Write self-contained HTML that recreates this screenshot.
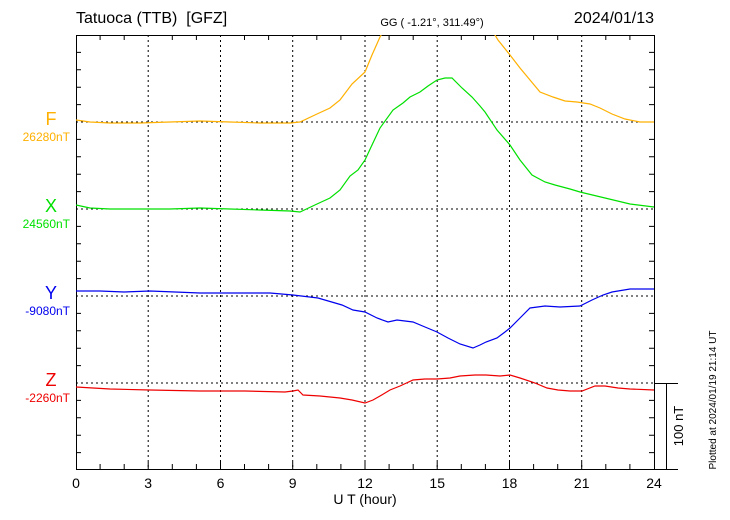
<!DOCTYPE html>
<html><head><meta charset="utf-8"><style>body{margin:0;background:#fff}svg{display:block}text{font-family:"Liberation Sans",sans-serif}</style></head><body>
<svg width="730" height="520" xmlns="http://www.w3.org/2000/svg">
<g stroke="#000" stroke-width="1" stroke-dasharray="2,3" fill="none">
<line x1="148.2" y1="35" x2="148.2" y2="469"/><line x1="220.5" y1="35" x2="220.5" y2="469"/><line x1="292.7" y1="35" x2="292.7" y2="469"/><line x1="365" y1="35" x2="365" y2="469"/><line x1="437.2" y1="35" x2="437.2" y2="469"/><line x1="509.5" y1="35" x2="509.5" y2="469"/><line x1="581.7" y1="35" x2="581.7" y2="469"/>
<line x1="76" y1="122" x2="654" y2="122"/><line x1="76" y1="209" x2="654" y2="209"/><line x1="76" y1="296" x2="654" y2="296"/><line x1="76" y1="383" x2="654" y2="383"/>
</g>
<rect x="76.5" y="35.5" width="578" height="434" fill="none" stroke="#000"/>
<line x1="654" y1="469.5" x2="678" y2="469.5" stroke="#000"/>
<line x1="654" y1="383.5" x2="678" y2="383.5" stroke="#000"/>
<line x1="666.5" y1="383" x2="666.5" y2="469" stroke="#000"/>
<g stroke="#000">
<path d="M100.1 469v-5M124.2 469v-5M172.3 469v-5M196.4 469v-5M244.5 469v-5M268.6 469v-5M316.8 469v-5M340.9 469v-5M389.1 469v-5M413.2 469v-5M461.3 469v-5M485.4 469v-5M533.6 469v-5M557.7 469v-5M605.8 469v-5M629.9 469v-5
M100.1 35v5M124.2 35v5M172.3 35v5M196.4 35v5M244.5 35v5M268.6 35v5M316.8 35v5M340.9 35v5M389.1 35v5M413.2 35v5M461.3 35v5M485.4 35v5M533.6 35v5M557.7 35v5M605.8 35v5M629.9 35v5
M148.2 469v-7M220.5 469v-7M292.7 469v-7M365 469v-7M437.2 469v-7M509.5 469v-7M581.7 469v-7
M76 52.4h5M76 69.8h5M76 87.2h5M76 104.6h5M76 139.4h5M76 156.8h5M76 174.2h5M76 191.6h5M76 226.4h5M76 243.8h5M76 261.2h5M76 278.6h5M76 313.4h5M76 330.8h5M76 348.2h5M76 365.6h5M76 400.4h5M76 417.8h5M76 435.2h5M76 452.6h5
M654 52.4h-5M654 69.8h-5M654 87.2h-5M654 104.6h-5M654 139.4h-5M654 156.8h-5M654 174.2h-5M654 191.6h-5M654 226.4h-5M654 243.8h-5M654 261.2h-5M654 278.6h-5M654 313.4h-5M654 330.8h-5M654 348.2h-5M654 365.6h-5M654 400.4h-5M654 417.8h-5M654 435.2h-5M654 452.6h-5"/>
</g>
<defs><clipPath id="c"><rect x="76" y="35" width="579" height="435"/></clipPath></defs>
<g fill="none" stroke-width="1.2" clip-path="url(#c)">
<polyline stroke="#ffb000" points="76,120 90,122 110,123 140,123 170,122 200,121 230,122 260,123 290,123 300,122 317,114 330,108 340,100 352,84 365,72 372,55 380,37 384,30"/>
<polyline stroke="#ffb000" points="492,30 498,40 510,55 520,68 530,80 540,92 553,97 565,101 577,102 590,104 600,108 612,114 625,119 640,122 654,122"/>
<polyline stroke="#00e000" points="76,205 90,208 110,209 140,209 170,209 200,208 230,209 260,210 290,211 300,212 317,204 330,198 340,190 350,176 358,170 365,160 372,145 380,128 393,110 403,103 410,97 420,92 428,86 437,80 445,78 452,78 462,88 472,97 480,106 485,112 497,130 510,145 520,160 532,175 545,182 555,185 570,189 580,192 605,198 630,204 654,207"/>
<polyline stroke="#0000ee" points="76,291 100,291 124,292 150,291 175,292 200,293 245,293 270,293 293,295 318,298 342,305 353,310 365,312 377,318 388,322 397,320 405,321 413,322 425,327 437,332 448,338 460,344 473,348 480,345 486,342 497,338 505,332 510,328 520,318 530,308 545,306 560,307 580,306 592,300 603,295 612,292 630,289 654,289"/>
<polyline stroke="#ee0000" points="76,387 110,389 150,390 200,391 245,391 285,392 293,391 298,390 303,395 320,396 340,398 352,400 365,403 373,400 380,396 390,390 400,386 413,380 425,379 437,379 450,378 460,376 475,375 486,375 500,376 510,375 520,378 535,383 547,388 558,390 570,391 582,391 595,386 605,386 618,388 630,389 654,390"/>
</g>
<text x="76" y="23" font-size="16">Tatuoca (TTB) &#160;[GFZ]</text>
<text x="432" y="26" font-size="11" text-anchor="middle">GG ( -1.21°, 311.49°)</text>
<text x="654" y="23" font-size="16" text-anchor="end">2024/01/13</text>
<g font-size="18" text-anchor="middle"><text x="51" y="125" fill="#ffb000">F</text><text x="51" y="212" fill="#00e000">X</text><text x="51" y="299" fill="#0000ee">Y</text><text x="51" y="386" fill="#ee0000">Z</text></g>
<g font-size="12" text-anchor="end"><text x="70" y="141" fill="#ffb000">26280nT</text><text x="70" y="228" fill="#00e000">24560nT</text><text x="70" y="315" fill="#0000ee">-9080nT</text><text x="70" y="402" fill="#ee0000">-2260nT</text></g>
<g font-size="14" text-anchor="middle"><text x="76" y="488">0</text><text x="148.2" y="488">3</text><text x="220.5" y="488">6</text><text x="292.7" y="488">9</text><text x="365" y="488">12</text><text x="437.2" y="488">15</text><text x="509.5" y="488">18</text><text x="581.7" y="488">21</text><text x="654" y="488">24</text></g>
<text x="365" y="504" font-size="14" text-anchor="middle">U T (hour)</text>
<text transform="translate(683,426) rotate(-90)" font-size="13" text-anchor="middle">100 nT</text>
<text transform="translate(716,400) rotate(-90)" font-size="10" text-anchor="middle">Plotted at 2024/01/19 21:14 UT</text>
</svg>
</body></html>
